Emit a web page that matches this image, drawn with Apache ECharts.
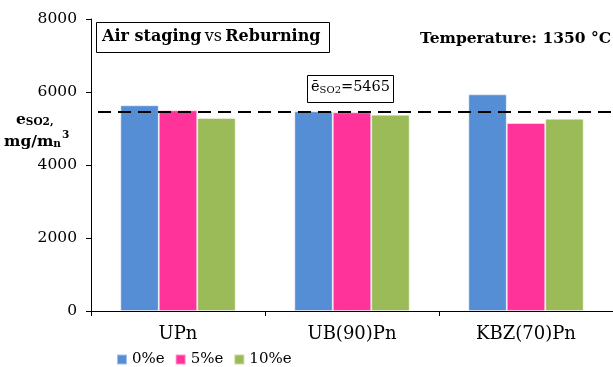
<!DOCTYPE html>
<html><head><meta charset="utf-8">
<script src="https://cdn.jsdelivr.net/npm/echarts@6/dist/echarts.min.js"></script>
<style>html,body{margin:0;padding:0;background:#fff}#c{width:613px;height:367px}</style>
</head><body><div id="c"></div>
<script>
const categories = ['UPn', 'UB(90)Pn', 'KBZ(70)Pn'];
const seriesNames = ['0%e', '5%e', '10%e'];
const values0 = [5636, 5471, 5937];
const values5 = [5499, 5444, 5151];
const values10 = [5288, 5379, 5268];
const meanValue = 5465;
const yTicks = [0, 2000, 4000, 6000, 8000];
const colors = ['#558ED5', '#FF3399', '#9BBB59'];
const FONT = 'DejaVu Serif';

const chart = echarts.init(document.getElementById('c'), null, {renderer: 'canvas'});
const data = [values0, values5, values10];
chart.setOption({
  animation: false,
  textStyle: {fontFamily: FONT},
  grid: {left: 91, right: -5, top: 19, bottom: 56, containLabel: false},
  legend: {
    data: seriesNames, left: 111, top: 347, itemWidth: 10, itemHeight: 10, itemGap: 10,
    icon: 'rect', textStyle: {fontFamily: FONT, fontSize: 15, color: '#000'}
  },
  xAxis: {
    type: 'category', data: categories,
    axisLine: {lineStyle: {color: '#000', width: 1}},
    axisTick: {show: true, length: 5, lineStyle: {color: '#000'}},
    axisLabel: {fontFamily: FONT, fontSize: 18, color: '#000', margin: 14}
  },
  yAxis: {
    type: 'value', min: 0, max: 8000, interval: 2000,
    axisLine: {show: true, lineStyle: {color: '#000'}},
    axisTick: {show: true, length: 5, lineStyle: {color: '#000'}},
    splitLine: {show: false},
    axisLabel: {fontFamily: FONT, fontSize: 15.5, color: '#000', margin: 14,
      formatter: v => yTicks.includes(v) ? String(v) : ''}
  },
  series: seriesNames.map((n, i) => ({
    name: n, type: 'bar', data: data[i], barGap: '0%', barCategoryGap: '33.7%',
    itemStyle: {color: colors[i], borderColor: 'rgba(255,255,255,0.45)', borderWidth: 1},
    markLine: i === 0 ? {
      silent: true, symbol: 'none', label: {show: false},
      lineStyle: {type: [13, 7], dashOffset: 13, color: '#000', width: 1.8},
      data: [{yAxis: meanValue}]
    } : undefined
  })),
  graphic: [
    {type: 'rect', left: 96, top: 22, shape: {width: 233, height: 30},
     style: {fill: '#fff', stroke: '#000', lineWidth: 1}},
    {type: 'text', left: 102, top: 29, style: {
      text: '{b|Air staging} {n|vs} {b|Reburning}',
      rich: {b: {fontFamily: FONT, fontWeight: 'bold', fontSize: 16, fill: '#000'},
             n: {fontFamily: FONT, fontSize: 16, fill: '#000'}}}},
    {type: 'text', right: 2, top: 31, style: {
      text: 'Temperature: 1350 °C', font: 'bold 15.5px "DejaVu Serif"', fill: '#000'}},
    {type: 'rect', left: 307, top: 75, shape: {width: 86, height: 27},
     style: {fill: '#fff', stroke: '#000', lineWidth: 1}},
    {type: 'text', left: 311, top: 80, style: {
      text: '{n|ē}{s|SO2}{n|=5465}',
      rich: {n: {fontFamily: FONT, fontSize: 14.5, fill: '#000', verticalAlign: 'bottom', lineHeight: 19},
             s: {fontFamily: FONT, fontSize: 10, fill: '#000', verticalAlign: 'bottom', lineHeight: 14}}}},
    {type: 'text', left: 16, top: 112, style: {
      text: '{b|e}{s|SO2,}', rich: {
        b: {fontFamily: FONT, fontWeight: 'bold', fontSize: 15.5, fill: '#000', verticalAlign: 'bottom', lineHeight: 20},
        s: {fontFamily: FONT, fontWeight: 'bold', fontSize: 10.5, fill: '#000', verticalAlign: 'bottom', lineHeight: 16}}}},
    {type: 'text', left: 4, top: 134, style: {
      text: '{b|mg/m}{s|n}', rich: {
        b: {fontFamily: FONT, fontWeight: 'bold', fontSize: 15.5, fill: '#000', verticalAlign: 'bottom', lineHeight: 20},
        s: {fontFamily: FONT, fontWeight: 'bold', fontSize: 10.5, fill: '#000', verticalAlign: 'bottom', lineHeight: 16}}}},
    {type: 'text', left: 62, top: 130, style: {
      text: '3', font: 'bold 10.5px "DejaVu Serif"', fill: '#000'}}
  ]
});
</script></body></html>
